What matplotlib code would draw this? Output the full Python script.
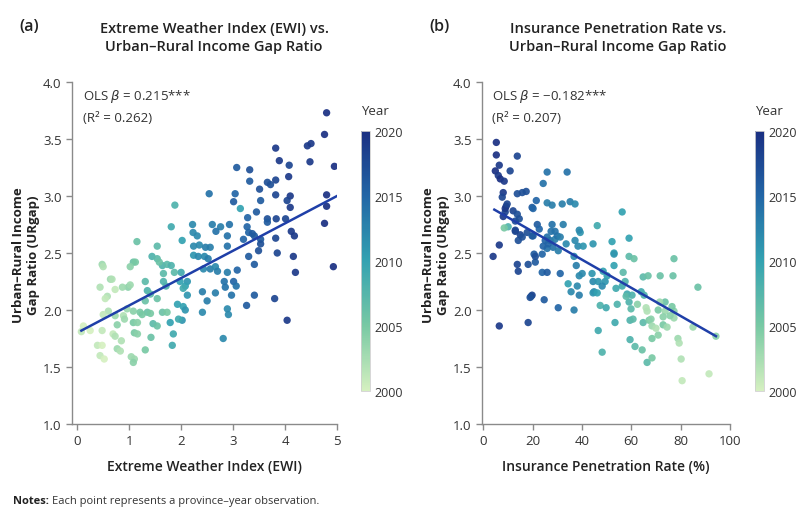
import numpy as np
import matplotlib
matplotlib.use("Agg")
import matplotlib.pyplot as plt
from matplotlib.colors import LinearSegmentedColormap, Normalize
from matplotlib.cm import ScalarMappable

plt.rcParams['font.family'] = ['Open Sans', 'DejaVu Sans']

# ---------------- data: panel (a) ----------------
ewi = [4.80, 4.76, 4.95, 4.48, 4.50, 4.43, 3.82, 3.89, 4.08, 3.07, 3.32, 3.32, 3.66, 3.72, 3.82, 4.07,
       2.54, 3.04, 3.51, 3.82, 4.10, 4.04, 4.80, 4.80, 1.88, 3.01, 3.14, 3.53, 4.10, 3.45, 3.28, 3.66,
       3.66, 3.83, 4.01, 4.12, 4.18, 4.76, 1.81, 2.22, 2.60, 2.76, 2.93, 2.23, 2.67, 2.89, 3.27, 3.30,
       3.37, 3.41, 3.20, 3.53, 3.53, 3.82, 2.02, 2.31, 2.24, 2.35, 2.47, 2.56, 2.89, 1.15, 1.54, 3.30,
       3.85, 4.16, 4.93, 4.20, 3.49, 3.41, 3.08, 3.01, 3.06, 2.97, 2.85, 3.41, 3.26, 3.80, 4.04, 2.83,
       2.89, 2.41, 2.50, 2.41, 2.66, 2.89, 2.91, 2.81, 2.24, 2.33, 2.45, 2.52, 2.43, 2.56, 2.66, 2.70,
       2.12, 2.08, 2.12, 2.00, 1.98, 2.04, 1.93, 2.04, 2.08, 2.02, 1.95, 1.85, 1.83, 1.79, 1.64, 1.73,
       1.66, 1.71, 1.66, 1.64, 1.73, 1.81, 1.87, 1.44, 1.54, 1.58, 1.31, 1.35, 1.31, 1.41, 1.54, 1.35,
       1.41, 1.46, 1.54, 1.42, 1.31, 1.08, 1.21, 1.25, 1.08, 1.16, 1.10, 1.16, 1.04, 1.10, 1.08, 0.98,
       1.02, 0.96, 0.89, 0.91, 0.73, 0.77, 0.85, 0.77, 0.83, 1.08, 1.12, 1.02, 0.64, 0.58, 0.54, 0.60,
       0.50, 0.69, 0.73, 0.44, 0.48, 0.50, 0.39, 0.48, 0.44, 0.52, 0.48, 0.25, 0.12, 0.08, 0.67, 0.73,
       0.87]
gap_a = [3.73, 3.54, 3.26, 3.30, 3.46, 3.44, 3.42, 3.31, 3.27, 3.25, 3.23, 3.13, 3.12, 3.10, 3.14, 3.17,
         3.02, 3.02, 3.06, 3.01, 3.00, 2.96, 3.01, 2.91, 2.92, 2.95, 2.89, 2.96, 2.90, 2.86, 2.81, 2.80,
         2.77, 2.80, 2.80, 2.69, 2.65, 2.76, 2.73, 2.75, 2.75, 2.73, 2.75, 2.68, 2.69, 2.65, 2.73, 2.68,
         2.67, 2.65, 2.62, 2.62, 2.58, 2.63, 2.61, 2.65, 2.56, 2.57, 2.55, 2.55, 2.56, 2.60, 2.56, 2.47,
         2.50, 2.47, 2.38, 2.33, 2.52, 2.40, 2.35, 2.25, 2.21, 2.13, 2.20, 2.13, 2.04, 2.10, 1.91, 2.25,
         2.33, 2.16, 2.08, 1.98, 2.15, 2.01, 1.96, 1.75, 2.48, 2.47, 2.47, 2.45, 2.36, 2.36, 2.38, 2.34,
         2.25, 2.21, 2.13, 2.33, 2.25, 2.19, 2.05, 2.03, 2.00, 1.91, 1.92, 1.79, 1.69, 1.89, 1.98, 1.98,
         2.25, 2.21, 2.32, 2.39, 2.40, 2.39, 2.33, 2.47, 2.45, 2.42, 2.25, 2.17, 2.08, 2.14, 2.10, 1.98,
         1.97, 1.88, 1.86, 1.76, 1.65, 1.99, 1.98, 1.96, 1.89, 1.89, 1.80, 1.79, 1.59, 1.57, 1.54, 2.20,
         2.22, 2.01, 1.95, 1.92, 1.95, 1.87, 1.73, 1.66, 1.64, 2.42, 2.42, 2.38, 2.27, 2.12, 2.10, 1.99,
         1.96, 1.79, 1.77, 2.20, 2.40, 2.38, 1.69, 1.69, 1.60, 1.57, 1.82, 1.82, 1.86, 1.81, 2.27, 2.18,
         2.20]
year_a = [2020, 2020, 2020, 2019, 2019, 2019, 2019, 2019, 2018, 2016, 2017, 2016, 2017, 2017, 2018, 2019,
          2014, 2015, 2017, 2018, 2019, 2018, 2020, 2020, 2008, 2016, 2010, 2016, 2019, 2016, 2015, 2017,
          2016, 2018, 2018, 2019, 2019, 2020, 2009, 2012, 2013, 2013, 2014, 2012, 2014, 2014, 2015, 2015,
          2016, 2016, 2015, 2016, 2017, 2018, 2010, 2012, 2012, 2012, 2013, 2013, 2014, 2006, 2007, 2016,
          2018, 2019, 2020, 2019, 2017, 2016, 2015, 2015, 2014, 2014, 2014, 2016, 2016, 2018, 2019, 2014,
          2013, 2013, 2013, 2012, 2013, 2012, 2012, 2012, 2011, 2012, 2012, 2013, 2012, 2013, 2012, 2013,
          2011, 2010, 2011, 2009, 2010, 2009, 2010, 2010, 2011, 2011, 2009, 2009, 2009, 2010, 2006, 2005,
          2008, 2008, 2007, 2008, 2007, 2008, 2007, 2008, 2007, 2006, 2007, 2008, 2006, 2007, 2006, 2006,
          2005, 2007, 2006, 2006, 2005, 2004, 2005, 2005, 2005, 2004, 2005, 2004, 2003, 2003, 2004, 2004,
          2003, 2003, 2002, 2003, 2003, 2004, 2002, 2003, 2002, 2006, 2005, 2004, 2003, 2002, 2001, 2002,
          2001, 2001, 2002, 2002, 2003, 2002, 2001, 2000, 2001, 2000, 2001, 2000, 2000, 2001, 2002, 2001,
          2003]

# ---------------- data: panel (b) ----------------
ins = [5.3, 5.3, 6.5, 13.8, 4.9, 6.1, 6.9, 8.5, 10.9, 25.9, 34.0, 24.3, 8.1, 7.7, 13.8, 15.8,
       17.4, 21.5, 25.9, 27.9, 32.0, 35.2, 37.2, 19.8, 20.2, 9.3, 8.9, 12.1, 13.8, 56.3, 10.1, 13.0,
       14.6, 21.9, 22.7, 27.9, 32.4, 46.2, 17.8, 19.8, 20.2, 25.9, 27.1, 29.1, 37.2, 38.4, 39.3, 40.5,
       52.2, 53.0, 59.1, 13.0, 14.2, 6.5, 20.6, 23.9, 25.9, 28.3, 30.4, 4.0, 13.8, 14.2, 18.2, 21.1,
       21.1, 23.9, 25.9, 31.2, 19.4, 24.7, 30.4, 36.8, 37.7, 38.9, 40.1, 34.4, 35.6, 38.1, 38.9, 36.8,
       44.1, 44.5, 44.9, 44.5, 46.6, 48.2, 48.6, 49.4, 50.2, 47.4, 49.8, 53.0, 53.0, 53.8, 54.3, 53.4,
       56.7, 57.5, 59.1, 61.1, 58.3, 59.1, 59.9, 59.5, 60.7, 59.5, 61.5, 64.8, 66.8, 64.0, 65.2, 64.8,
       67.2, 64.4, 66.4, 68.4, 66.4, 68.0, 68.4, 68.4, 70.9, 71.7, 73.7, 70.9, 73.7, 72.9, 72.9, 77.3,
       76.9, 77.3, 77.3, 78.9, 79.4, 80.2, 80.6, 87.0, 85.0, 91.5, 94.3, 6.5, 18.2, 19.8, 19.0, 38.9,
       33.6, 30.0, 31.2, 27.5, 29.1, 25.1, 26.3, 24.3, 15.0, 15.8, 13.0, 8.1, 8.9, 9.7, 8.5, 46.6,
       48.2, 46.2, 44.5, 56.3, 57.9, 60.3, 74.5, 75.7, 76.5, 62.5, 66.0, 70.0, 71.5]
gap_b = [3.47, 3.36, 3.27, 3.35, 3.22, 3.18, 3.15, 3.13, 3.22, 3.21, 3.21, 3.11, 3.03, 2.99, 3.02, 3.03,
         3.04, 2.96, 2.94, 2.92, 2.93, 2.95, 2.93, 2.90, 2.89, 2.91, 2.86, 2.87, 2.84, 2.86, 2.73, 2.78,
         2.80, 2.75, 2.71, 2.75, 2.75, 2.74, 2.68, 2.65, 2.65, 2.64, 2.61, 2.62, 2.61, 2.56, 2.68, 2.56,
         2.60, 2.50, 2.63, 2.69, 2.61, 2.57, 2.49, 2.49, 2.54, 2.55, 2.52, 2.47, 2.40, 2.34, 2.40, 2.42,
         2.47, 2.33, 2.33, 2.32, 2.12, 2.09, 2.02, 2.47, 2.39, 2.30, 2.32, 2.23, 2.16, 2.21, 2.13, 2.00,
         2.32, 2.25, 2.16, 2.15, 1.82, 1.63, 2.34, 2.25, 2.30, 2.04, 2.02, 2.49, 2.39, 2.19, 2.05, 1.89,
         2.33, 2.25, 2.47, 2.45, 2.14, 2.07, 2.01, 1.91, 1.92, 1.74, 1.68, 2.29, 2.30, 2.16, 2.13, 1.89,
         1.91, 1.65, 1.54, 1.58, 1.99, 1.92, 1.86, 1.75, 1.78, 2.30, 2.07, 2.00, 1.99, 1.94, 1.87, 2.45,
         2.30, 1.99, 1.93, 1.75, 1.71, 1.57, 1.38, 2.20, 1.85, 1.44, 1.77, 1.86, 1.89, 2.13, 2.11, 2.70,
         2.58, 2.65, 2.64, 2.69, 2.69, 2.61, 2.58, 2.56, 2.66, 2.64, 2.70, 2.82, 2.89, 2.93, 2.72, 2.25,
         2.21, 2.15, 2.58, 2.21, 2.12, 2.13, 1.85, 1.95, 2.03, 2.05, 2.02, 1.84, 2.07]
year_b = [2020, 2020, 2019, 2018, 2020, 2019, 2020, 2019, 2018, 2014, 2014, 2014, 2019, 2018, 2017, 2017,
          2017, 2015, 2013, 2013, 2013, 2013, 2012, 2016, 2015, 2019, 2018, 2018, 2017, 2010, 2008, 2017,
          2017, 2016, 2015, 2014, 2013, 2009, 2017, 2016, 2016, 2014, 2014, 2013, 2012, 2012, 2011, 2011,
          2010, 2010, 2010, 2018, 2017, 2019, 2016, 2015, 2014, 2014, 2013, 2019, 2018, 2018, 2017, 2016,
          2017, 2015, 2016, 2015, 2017, 2016, 2015, 2012, 2013, 2012, 2012, 2010, 2012, 2012, 2013, 2013,
          2011, 2012, 2012, 2011, 2009, 2008, 2010, 2011, 2010, 2008, 2009, 2011, 2010, 2009, 2008, 2009,
          2007, 2008, 2007, 2006, 2009, 2008, 2007, 2008, 2007, 2008, 2007, 2007, 2006, 2009, 2008, 2007,
          2005, 2006, 2007, 2005, 2002, 2004, 2003, 2005, 2004, 2006, 2006, 2005, 2003, 2004, 2005, 2006,
          2006, 2004, 2003, 2003, 2002, 2002, 2001, 2006, 2003, 2001, 2004, 2019, 2018, 2018, 2017, 2012,
          2012, 2014, 2013, 2014, 2014, 2015, 2015, 2015, 2018, 2017, 2018, 2019, 2019, 2018, 2005, 2011,
          2012, 2010, 2011, 2009, 2007, 2008, 2003, 2004, 2005, 2004, 2002, 2002, 2003]

# OLS fit lines
fit_a = dict(intercept=1.80, slope=0.240, x0=0.08, x1=5.0)
fit_b = dict(intercept=2.936, slope=-0.01236, x0=4.5, x1=94.3)
stats_a = ("0.215", "0.262")
stats_b = ("\u22120.182", "0.207")
years_ticks = [2000, 2005, 2010, 2015, 2020]

# ---------------- styling ----------------
cmap = LinearSegmentedColormap.from_list(
    'year_cmap', ['#d5f0c0', '#78c9a4', '#33a2b1', '#2266a6', '#1a2f82'])
norm = Normalize(vmin=2000, vmax=2020)
line_col = '#1f3fa8'
spine_col = '#8a8a8a'
text_col = '#222222'

W, H = 796, 510
fig = plt.figure(figsize=(W / 100, H / 100), dpi=100)

def fx(px):
    return px / W

def fy(py):
    return 1 - py / H

def panel(ax_rect, cb_rect, x, y, yr, fit, stats, xlim, xticks, xlabel, title, letter, title_x, letter_x, ylab_x):
    ax = fig.add_axes(ax_rect)
    ax.scatter(x, y, c=yr, cmap=cmap, norm=norm, s=28, alpha=0.92, linewidths=0, zorder=2)
    xs = np.array([fit['x0'], fit['x1']])
    ax.plot(xs, fit['intercept'] + fit['slope'] * xs, color=line_col, lw=1.8, zorder=3)
    ax.set_xlim(*xlim)
    ax.set_ylim(1.0, 4.0)
    ax.set_xticks(xticks)
    ax.set_yticks([1.0, 1.5, 2.0, 2.5, 3.0, 3.5, 4.0])
    ax.set_yticklabels(['1.0', '1.5', '2.0', '2.5', '3.0', '3.5', '4.0'])
    for s in ['top', 'right']:
        ax.spines[s].set_visible(False)
    for s in ['left', 'bottom']:
        ax.spines[s].set_color(spine_col)
        ax.spines[s].set_linewidth(1.0)
    ax.tick_params(axis='both', colors=spine_col, labelcolor='#333333', labelsize=9.5, length=4, width=1.0)
    ax.set_xlabel(xlabel, fontsize=10, fontweight='semibold', color=text_col, labelpad=8)
    ax.text(0.04, 0.985, "OLS $\\beta$ = " + stats[0] + "***", transform=ax.transAxes,
            fontsize=9.5, color='#333333', va='top', ha='left')
    ax.text(0.04, 0.915, "(R\u00b2 = " + stats[1] + ")", transform=ax.transAxes,
            fontsize=9.5, color='#333333', va='top', ha='left')
    fig.text(fx(ylab_x), fy(255), "Urban\u2013Rural Income\nGap Ratio (URgap)", rotation=90,
             ha='center', va='center', fontsize=9.5, fontweight='bold', color=text_col, linespacing=1.15)
    fig.text(fx(title_x), fy(38), title, ha='center', va='center', fontsize=10.5,
             fontweight='semibold', color=text_col, linespacing=1.4)
    fig.text(fx(letter_x), fy(27), letter, ha='left', va='center', fontsize=11.5,
             fontweight='semibold', color=text_col)
    cax = fig.add_axes(cb_rect)
    cb = fig.colorbar(ScalarMappable(norm=norm, cmap=cmap), cax=cax, ticks=years_ticks)
    cb.outline.set_edgecolor('#d0d0d0')
    cb.outline.set_linewidth(0.6)
    cax.tick_params(length=0, labelsize=9, labelcolor='#333333', pad=3)
    cax.set_title("Year", fontsize=9.5, color='#333333', pad=12, loc='left')
    return ax

ax_h = (425 - 83) / H
panel([fx(72), fy(425), (337 - 72) / W, ax_h], [fx(361), fy(392), 9 / W, 260 / H],
      ewi, gap_a, year_a, fit_a, stats_a, (-0.1, 5.0), [0, 1, 2, 3, 4, 5],
      "Extreme Weather Index (EWI)",
      "Extreme Weather Index (EWI) vs.\nUrban\u2013Rural Income Gap Ratio", "(a)", 214, 19, 26)
panel([fx(482), fy(425), (730 - 482) / W, ax_h], [fx(755), fy(392), 9 / W, 260 / H],
      ins, gap_b, year_b, fit_b, stats_b, (-0.5, 100), [0, 20, 40, 60, 80, 100],
      "Insurance Penetration Rate (%)",
      "Insurance Penetration Rate vs.\nUrban\u2013Rural Income Gap Ratio", "(b)", 618, 429, 436)

t1 = fig.text(fx(13), fy(502), "Notes:", fontsize=8, fontweight='bold', color=text_col, va='center')
fig.canvas.draw()
bb = t1.get_window_extent()
fig.text(bb.x1 / W + 3 / W, fy(502), "Each point represents a province\u2013year observation.",
         fontsize=8, color='#333333', va='center')

fig.savefig("out.png", dpi=100)
